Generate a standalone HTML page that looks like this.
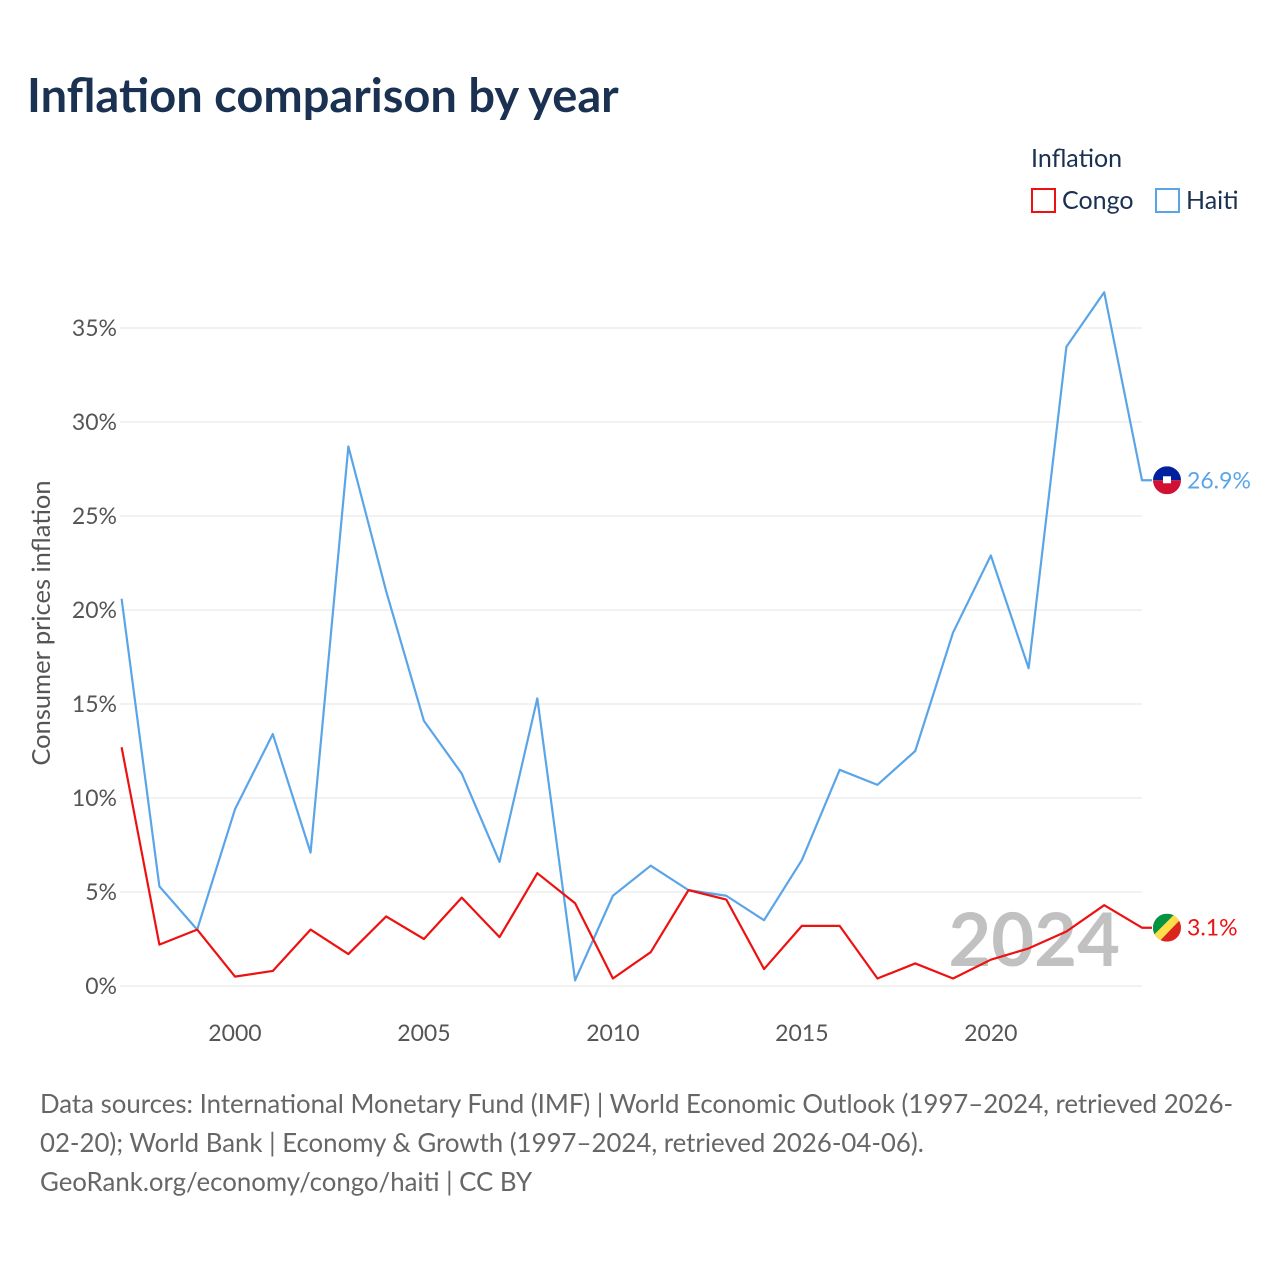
<!DOCTYPE html>
<html><head><meta charset="utf-8"><style>
body{margin:0;background:#fff;font-family:"Liberation Sans",sans-serif;}
svg text{font-family:"Lato","Liberation Sans",sans-serif;}
</style></head><body>
<svg id="chart" width="1280" height="1280" viewBox="0 0 1280 1280">
<text x="27" y="112" font-size="47" font-weight="bold" fill="#1a3152">Inflation comparison by year</text>
<g>
<text x="1031" y="167" font-size="25" fill="#1a3152">Inflation</text>
<g><rect x="1032" y="189" width="23" height="23" fill="none" stroke="#ee1111" stroke-width="2"/><text x="1062" y="209" font-size="25" fill="#1a3152">Congo</text></g>
<g><rect x="1156" y="189" width="23" height="23" fill="none" stroke="#5aa5e8" stroke-width="2"/><text x="1186" y="209" font-size="25" fill="#1a3152">Haiti</text></g>
</g>
<g id="grid"></g>
<g id="yticks"></g>
<g id="xticks"></g>
<text transform="translate(50,623) rotate(-90)" text-anchor="middle" font-size="25.5" fill="#555">Consumer prices inflation</text>
<text x="1120" y="966" text-anchor="end" font-size="74" font-weight="bold" fill="#bbb" opacity="0.9">2024</text>
<g id="series"></g>
<g font-size="25.8" fill="#666">
<text x="40" y="1113" fill="#666">Data sources: International Monetary Fund (IMF) | World Economic Outlook (1997–2024, retrieved 2026-</text>
<text x="40" y="1152" fill="#666">02-20); World Bank | Economy &amp; Growth (1997–2024, retrieved 2026-04-06).</text>
<text x="40" y="1191" fill="#666">GeoRank.org/economy/congo/haiti | CC BY</text>
</g>
</svg>
<script>
const years=[1997,1998,1999,2000,2001,2002,2003,2004,2005,2006,2007,2008,2009,2010,2011,2012,2013,2014,2015,2016,2017,2018,2019,2020,2021,2022,2023,2024];
const haiti=[20.6,5.3,3.0,9.4,13.4,7.1,28.7,21.0,14.1,11.3,6.6,15.3,0.3,4.8,6.4,5.1,4.8,3.5,6.7,11.5,10.7,12.5,18.8,22.9,16.9,34.0,36.9,26.9];
const congo=[12.7,2.2,3.0,0.5,0.8,3.0,1.7,3.7,2.5,4.7,2.6,6.0,4.4,0.4,1.8,5.1,4.6,0.9,3.2,3.2,0.4,1.2,0.4,1.4,2.0,2.9,4.3,3.1];
const yTicks=[0,5,10,15,20,25,30,35];
const xTicks=[2000,2005,2010,2015,2020];
const NS="http://www.w3.org/2000/svg";
const X=y=>121.6+(y-1997)*(1142-121.6)/27;
const Y=v=>986-v*18.8;
function mk(t,a,p){const e=document.createElementNS(NS,t);for(const k in a)e.setAttribute(k,a[k]);p.appendChild(e);return e;}
const g=document.getElementById('grid'),yt=document.getElementById('yticks'),xt=document.getElementById('xticks'),s=document.getElementById('series');
yTicks.forEach(v=>{
 const l=mk('line',{x1:120,x2:1142,y1:Y(v),y2:Y(v),stroke:'#e6e6e6','stroke-width':1},g);
 
 
 const t=mk('text',{x:117,y:Y(v)+8,'text-anchor':'end','font-size':23,fill:'#555'},yt);t.textContent=v+'%';
 
 
});
xTicks.forEach(v=>{
 const t=mk('text',{x:X(v),y:1041,'text-anchor':'middle','font-size':23,fill:'#555'},xt);t.textContent=v;
 
 
});
function line(vals,color,name,label){
 const d=vals.map((v,i)=>(i?'L':'M')+X(years[i])+','+Y(v)).join(' ')+' L1152,'+Y(vals[vals.length-1]);
 const p=mk('path',{d:d,fill:'none',stroke:color,'stroke-width':2.2,'stroke-linejoin':'round'},s);
 
 
 const yy=Y(vals[vals.length-1]);
 const t=mk('text',{x:1187,y:yy+8,'font-size':23,fill:color},s);t.textContent=label;
 
 
 return yy;
}
const hy=line(haiti,'#5aa5e8','haiti','26.9%');
const cy=line(congo,'#ee1111','congo','3.1%');
const hf=mk('g',{},s);


const hc=mk('clipPath',{id:'hc'},hf);mk('circle',{cx:1167,cy:hy,r:14},hc);
mk('rect',{x:1153,y:hy-14,width:28,height:14,fill:'#00209f','clip-path':'url(#hc)'},hf);
mk('rect',{x:1153,y:hy,width:28,height:14,fill:'#d21034','clip-path':'url(#hc)'},hf);
mk('rect',{x:1163,y:hy-4,width:8,height:7,fill:'#fff'},hf);
const cf=mk('g',{},s);


const cc=mk('clipPath',{id:'cc'},cf);mk('circle',{cx:1167,cy:cy,r:14},cc);
mk('rect',{x:1153,y:cy-14,width:28,height:28,fill:'#dc241f','clip-path':'url(#cc)'},cf);
mk('polygon',{points:`1153,${cy-14} 1175,${cy-14} 1153,${cy+8}`,fill:'#009543','clip-path':'url(#cc)'},cf);
mk('polygon',{points:`1175,${cy-14} 1186,${cy-14} 1159,${cy+14} 1153,${cy+14} 1153,${cy+8}`,fill:'#fbde4a','clip-path':'url(#cc)'},cf);
</script>
</body></html>
